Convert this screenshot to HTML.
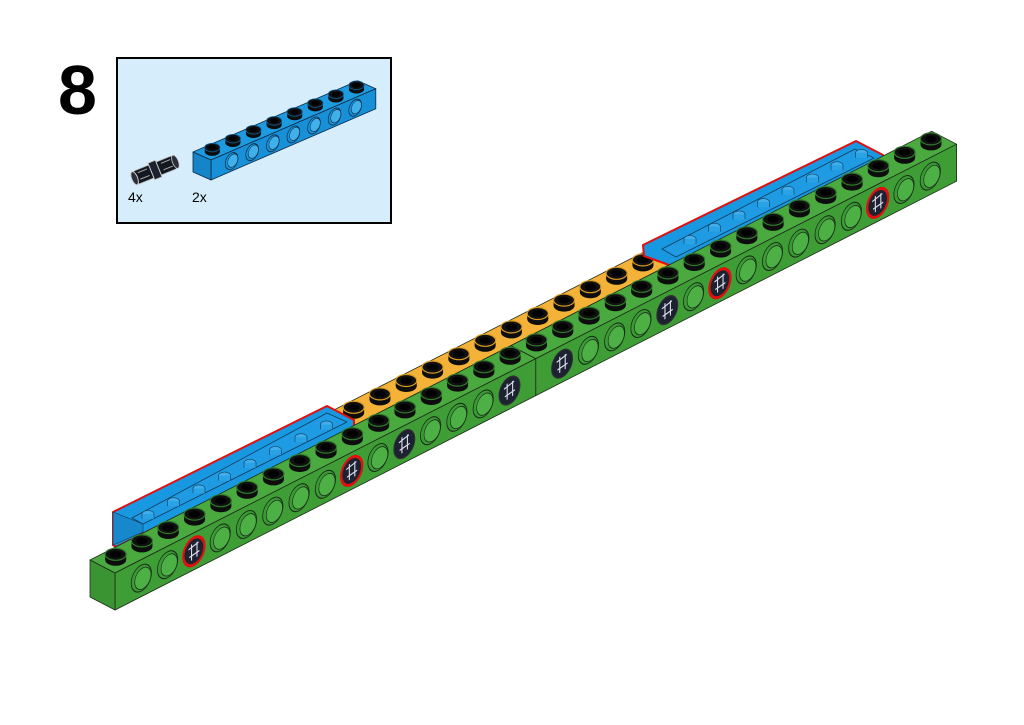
<!DOCTYPE html>
<html><head><meta charset="utf-8">
<style>
html,body{margin:0;padding:0;background:#fff;}
#wrap{position:relative;width:1024px;height:725px;overflow:hidden;background:#fff;}
.num{position:absolute;left:58px;top:52px;font-family:"Liberation Sans",sans-serif;font-weight:bold;font-size:70px;line-height:76px;color:#000;}
.box{position:absolute;left:116px;top:57px;width:272px;height:163px;border:2px solid #000;background:#d6edfb;}
.lbl{position:absolute;font-family:"Liberation Sans",sans-serif;font-size:14px;color:#000;}
svg{position:absolute;left:0;top:0;}
</style></head>
<body><div id="wrap">
<div class="num">8</div>
<div class="box"></div>
<div class="lbl" style="left:128px;top:189px">4x</div>
<div class="lbl" style="left:192px;top:189px">2x</div>
<svg id="s" width="1024" height="725" viewBox="0 0 1024 725"></svg>
</div>
<script>
var o=[];
var UX=26.3,UY=-13.4,WX=25,WY=13,H=37;
function F(t,b){b=b||0;return [115+UX*t-WX*b,573+UY*t-WY*b];}
function p(a){return a.map(function(q){return q[0].toFixed(1)+','+q[1].toFixed(1)}).join(' ');}
function poly(pts,fill,st,sw){o.push('<polygon points="'+p(pts)+'" fill="'+fill+'" stroke="'+(st||'#1d2a1a')+'" stroke-width="'+(sw||0.8)+'" stroke-linejoin="round"/>');}
function stud(cx,cy,rim,s){s=s||1;var rx=10.5*s,ry=6*s,hh=5.5*s;
 o.push('<ellipse cx="'+cx+'" cy="'+cy+'" rx="'+rx+'" ry="'+ry+'" fill="#0d0d0d"/>');
 o.push('<rect x="'+(cx-rx)+'" y="'+(cy-hh)+'" width="'+(2*rx)+'" height="'+hh+'" fill="#0d0d0d"/>');
 o.push('<ellipse cx="'+cx+'" cy="'+(cy-hh)+'" rx="'+rx+'" ry="'+ry+'" fill="#111" stroke="'+rim+'" stroke-width="'+(1.2*s)+'"/>');
 o.push('<ellipse cx="'+cx+'" cy="'+(cy-hh)+'" rx="'+(rx*0.55)+'" ry="'+(ry*0.55)+'" fill="#000"/>');}
function hole(cx,cy,c1,c2,r,a){r=r||13;a=a||0.78;
 var m='matrix('+a+','+(-a*0.5)+',0,1,'+cx.toFixed(1)+','+cy.toFixed(1)+')';
 o.push('<g transform="'+m+'"><circle r="'+r+'" fill="'+c1+'" stroke="#1a2a1a" stroke-width="1"/><circle cx="2" cy="1" r="'+(r*0.8)+'" fill="'+c2+'" stroke="#1a2a1a" stroke-width="0.8"/></g>');}
function pin(cx,cy,red){
 var m='matrix(0.78,-0.39,0,1,'+cx.toFixed(1)+','+cy.toFixed(1)+')';
 o.push('<g transform="'+m+'"><circle r="13.5" fill="#1c2230" stroke="'+(red?'#e01010':'#333')+'" stroke-width="'+(red?3:1.2)+'"/><path d="M-7,-4 L6,-7 M-6,4 L7,2 M-3,-8 L-3,8 M4,-8 L4,7" stroke="#dde" stroke-width="1.4" fill="none"/></g>');}

(function(){var a=8,b=23;
 poly([F(a,1),F(b,1),F(b,2),F(a,2)],'#f4b338');
 for(var t=a;t<b;t++){var c=F(t+0.5,1.5);stud(c[0],c[1],'#d99a20');}
})();
function blue(P,inner,studs){
 poly(P,'#1798e0','#e01010',2);
 poly(inner,'#1e9be2','#123a5a',0.8);
 studs.forEach(function(s){o.push('<ellipse cx="'+s[0]+'" cy="'+s[1]+'" rx="6" ry="3.5" fill="#40aeea" stroke="#123a5a" stroke-width="0.6"/><rect x="'+(s[0]-6)+'" y="'+s[1]+'" width="12" height="5" fill="#2aa3e6"/><path d="M'+(s[0]-6)+','+s[1]+' v5 M'+(s[0]+6)+','+s[1]+' v5" stroke="#123a5a" stroke-width="0.6"/>');});
}
(function(){
 var st=[];for(var i=0;i<8;i++){st.push([148+i*25.5,(514-i*12.8).toFixed(1)]);}
 blue([[113,512],[327,406],[354,420],[354,428],[116,547],[113,545]],
      [[132,518],[327,413],[347,422],[143,524]],st);
 o.push('<polygon points="113,512 143,524 143,532 113,545" fill="#1888cc" stroke="#123a5a" stroke-width="0.6"/>');
 var st2=[];for(var i=0;i<8;i++){st2.push([690+i*24.5,(239-i*12.3).toFixed(1)]);}
 blue([[643,245],[856,141],[883,155],[883,163],[672,266],[644,256]],
      [[662,249],[855,149],[874,158],[676,257]],st2);
})();
function gbeam(a,b,leftEnd){
 poly([F(a),F(b),F(b,1),F(a,1)],'#4aaa40');
 var fa=F(a),fb=F(b);
 poly([fa,fb,[fb[0],fb[1]+H],[fa[0],fa[1]+H]],'#3f9d36');
 if(leftEnd){var ba=F(a,1);poly([ba,fa,[fa[0],fa[1]+H],[ba[0],ba[1]+H]],'#3a9432');}
}
gbeam(0,16,true);gbeam(16,32,false);
var pins={3:1,9:1,11:0,15:0,17:0,21:0,23:1,29:1};
for(var t=1;t<32;t++){if(t==16)continue;var f=F(t);var cx=f[0],cy=f[1]+18.5;
 if(t in pins)pin(cx,cy,pins[t]);else hole(cx,cy,'#3a9a34','#4db045');}
for(var t=0;t<32;t++){var c=F(t+0.5,0.5);stud(c[0],c[1],'#2f7a2a');}

(function(){
 function G(t,b){b=b||0;return [211+20.6*t-18*b,160-8.9*t-8*b];}
 var h=20;
 poly([G(0),G(8),G(8,1),G(0,1)],'#1e9be0','#0d2a44',0.8);
 var a=G(0),b=G(8),c=G(0,1);
 poly([a,b,[b[0],b[1]+h],[a[0],a[1]+h]],'#1790d8','#0d2a44',0.8);
 poly([c,a,[a[0],a[1]+h],[c[0],c[1]+h]],'#1585c8','#0d2a44',0.8);
 for(var t=1;t<8;t++){var f=G(t);var m='matrix(0.8,-0.35,0,1,'+f[0].toFixed(1)+','+(f[1]+10).toFixed(1)+')';
  o.push('<g transform="'+m+'"><circle r="8" fill="#1a8fd4" stroke="#0d2a44" stroke-width="0.8"/><circle cx="1.5" r="6.3" fill="#3fb0ea" stroke="#0d2a44" stroke-width="0.6"/></g>');}
 for(var t=0;t<8;t++){var q=G(t+0.5,0.5);stud(q[0],q[1],'#0d5a90',0.72);}
 o.push('<g transform="translate(155,170) rotate(-22)"><rect x="-22" y="-7" width="44" height="14" rx="3" fill="#141820" stroke="#bbb" stroke-width="0.8"/><rect x="-4" y="-9" width="8" height="18" fill="#1c2230" stroke="#ccc" stroke-width="1"/><ellipse cx="-22" cy="0" rx="3" ry="7" fill="#2a2f3a" stroke="#ccc" stroke-width="1"/><ellipse cx="22" cy="0" rx="3" ry="7" fill="#2a2f3a" stroke="#ccc" stroke-width="0.8"/><path d="M-17,-4 h10 M-17,3 h10 M8,-4 h10 M8,3 h10" stroke="#aaa" stroke-width="1"/></g>');
})();
document.getElementById('s').innerHTML=o.join('');
</script>
</body></html>
